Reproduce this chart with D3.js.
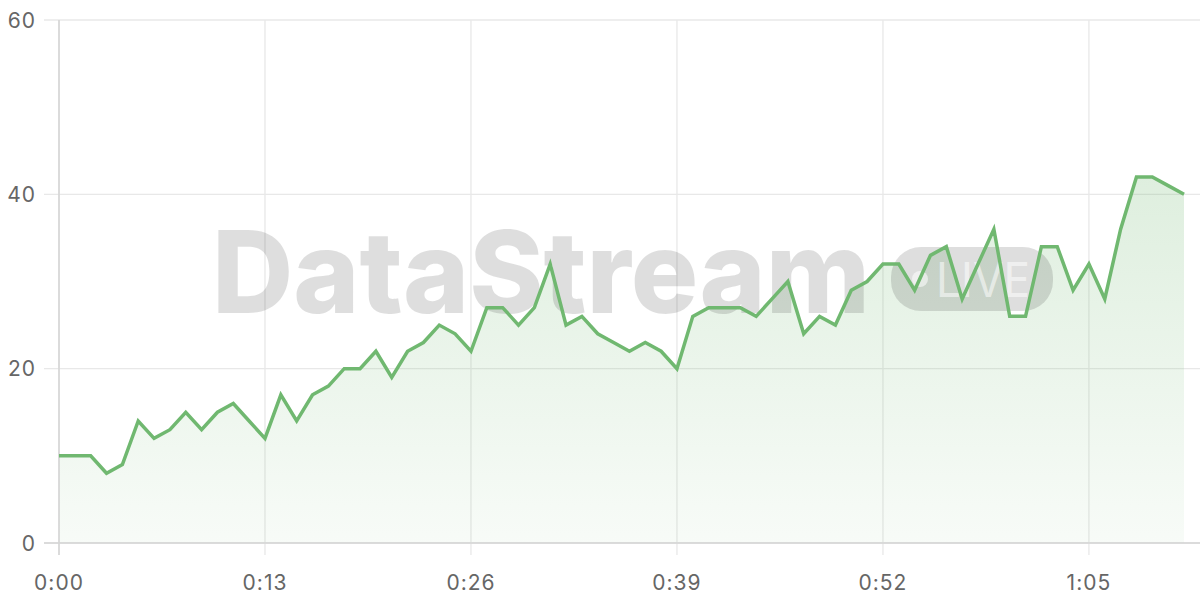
<!DOCTYPE html>
<html>
<head>
<meta charset="utf-8">
<script src="https://cdn.jsdelivr.net/npm/d3@7"></script>
<style>
  html, body { margin: 0; padding: 0; background: #fff; }
  svg { display: block; }
</style>
</head>
<body>
<svg id="chart" width="1200" height="600"></svg>
<script>
// ---- data ----
const seconds = d3.range(0, 72);
const values = [10,10,10,8,9,14,12,13,15,13,15,16,14,12,17,14,17,18,20,20,
                22,19,22,23,25,24,22,27,27,25,27,32,25,26,24,23,22,23,22,20,
                26,27,27,27,26,28,30,24,26,25,29,30,32,32,29,33,34,28,32,36,
                26,26,34,34,29,32,28,36,42,42,41,40];
const xTickSeconds = [0, 13, 26, 39, 52, 65];
const yTicks = [0, 20, 40, 60];
const watermarkText = "DataStream";
const badgeText = "LIVE";

(function () {
const data = seconds.map((s, i) => ({ t: s, v: values[i] }));

const svg = d3.select("#chart");
const pLeft = 59, pRight = 1184, pTop = 20, pBottom = 543;

const x = d3.scaleLinear().domain([0, 71]).range([pLeft, pRight]);
const y = d3.scaleLinear().domain([0, 60]).range([pBottom, pTop]);

const fmt = s => Math.floor(s / 60) + ":" + String(s % 60).padStart(2, "0");
const tickFont = "Inter, 'DejaVu Sans', sans-serif";

// gradient
const defs = svg.append("defs");
const grad = defs.append("linearGradient").attr("id", "areaGrad")
  .attr("x1", 0).attr("y1", 0).attr("x2", 0).attr("y2", 1);
grad.append("stop").attr("offset", "0%").attr("stop-color", "#6ab46a").attr("stop-opacity", 0.22);
grad.append("stop").attr("offset", "100%").attr("stop-color", "#6ab46a").attr("stop-opacity", 0.05);

// grid
const gx = svg.append("g");
gx.selectAll("line.v").data(xTickSeconds).join("line").attr("class", "v")
  .attr("x1", d => x(d)).attr("x2", d => x(d))
  .attr("y1", pTop).attr("y2", pBottom + 12)
  .attr("stroke", "#e8e8e8").attr("stroke-width", 1.3);
gx.selectAll("line.h").data(yTicks).join("line").attr("class", "h")
  .attr("x1", pLeft - 15).attr("x2", 1200)
  .attr("y1", d => y(d)).attr("y2", d => y(d))
  .attr("stroke", "#e8e8e8").attr("stroke-width", 1.3);

// area
svg.append("path").datum(data)
  .attr("fill", "url(#areaGrad)")
  .attr("d", d3.area().x(d => x(d.t)).y0(y(0)).y1(d => y(d.v)));

// watermark
const wm = svg.append("g").attr("pointer-events", "none");
wm.append("text")
  .attr("x", 212).attr("y", 313)
  .attr("font-family", "Inter, 'Open Sans', sans-serif")
  .attr("font-weight", 800)
  .attr("font-size", 114)
  .attr("textLength", 658)
  .attr("lengthAdjust", "spacingAndGlyphs")
  .attr("fill", "#000").attr("fill-opacity", 0.13)
  .text(watermarkText);
wm.append("rect")
  .attr("x", 891).attr("y", 247).attr("width", 162).attr("height", 64)
  .attr("rx", 30).attr("ry", 30)
  .attr("fill", "#000").attr("fill-opacity", 0.13);
wm.append("circle")
  .attr("cx", 920).attr("cy", 279).attr("r", 8)
  .attr("fill", "#fff").attr("fill-opacity", 0.55);
wm.append("text")
  .attr("x", 936).attr("y", 297)
  .attr("font-family", "Inter, 'Open Sans', sans-serif")
  .attr("font-weight", 400)
  .attr("font-size", 48)
  .attr("textLength", 94)
  .attr("lengthAdjust", "spacingAndGlyphs")
  .attr("fill", "#fff").attr("fill-opacity", 0.55)
  .text(badgeText);

// axes lines
svg.append("line").attr("x1", pLeft).attr("x2", pLeft).attr("y1", pTop).attr("y2", pBottom + 12)
  .attr("stroke", "#d4d4d4").attr("stroke-width", 1.5);
svg.append("line").attr("x1", pLeft - 15).attr("x2", 1200).attr("y1", pBottom).attr("y2", pBottom)
  .attr("stroke", "#d4d4d4").attr("stroke-width", 1.5);

// line
svg.append("path").datum(data)
  .attr("fill", "none")
  .attr("stroke", "#70b870")
  .attr("stroke-width", 3.5)
  .attr("stroke-linejoin", "miter")
  .attr("d", d3.line().x(d => x(d.t)).y(d => y(d.v)));

// tick labels
svg.append("g").selectAll("text").data(yTicks).join("text")
  .attr("x", 36).attr("y", d => y(d)).attr("dy", "0.36em")
  .attr("text-anchor", "end")
  .attr("font-family", tickFont)
  .attr("font-size", 21).attr("letter-spacing", 1).attr("fill", "#666")
  .text(d => d);
svg.append("g").selectAll("text").data(xTickSeconds).join("text")
  .attr("x", d => x(d)).attr("y", 590)
  .attr("text-anchor", "middle")
  .attr("font-family", tickFont)
  .attr("font-size", 21).attr("letter-spacing", 1).attr("fill", "#666")
  .text(d => fmt(d));
})();
</script>
</body>
</html>
